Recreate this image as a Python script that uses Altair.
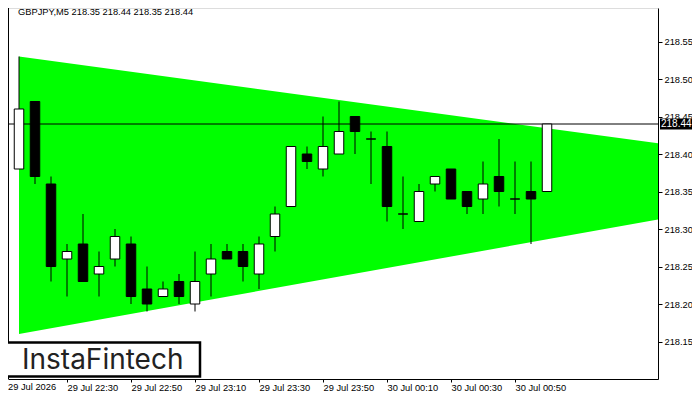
import altair as alt
import pandas as pd

# ---- data ----
times = ["2026-07-29 22:10", "2026-07-29 22:15", "2026-07-29 22:20", "2026-07-29 22:25",
         "2026-07-29 22:30", "2026-07-29 22:35", "2026-07-29 22:40", "2026-07-29 22:45",
         "2026-07-29 22:50", "2026-07-29 22:55", "2026-07-29 23:00", "2026-07-29 23:05",
         "2026-07-29 23:10", "2026-07-29 23:15", "2026-07-29 23:20", "2026-07-29 23:25",
         "2026-07-29 23:30", "2026-07-29 23:35", "2026-07-29 23:40", "2026-07-29 23:45",
         "2026-07-29 23:50", "2026-07-29 23:55", "2026-07-30 00:00", "2026-07-30 00:05",
         "2026-07-30 00:10", "2026-07-30 00:15", "2026-07-30 00:20", "2026-07-30 00:25",
         "2026-07-30 00:30", "2026-07-30 00:35", "2026-07-30 00:40", "2026-07-30 00:45",
         "2026-07-30 00:50", "2026-07-30 00:55", "2026-07-30 01:00"]
opens = [218.25, 218.38, 218.47, 218.36, 218.26, 218.28, 218.24, 218.26, 218.28, 218.22,
         218.21, 218.23, 218.20, 218.24, 218.27, 218.27, 218.24, 218.29, 218.33, 218.40,
         218.38, 218.40, 218.45, 218.42, 218.41, 218.32, 218.31, 218.36, 218.38, 218.35,
         218.34, 218.37, 218.34, 218.35, 218.35]
highs = [218.39, 218.53, 218.47, 218.37, 218.28, 218.32, 218.27, 218.30, 218.29, 218.25,
         218.23, 218.24, 218.27, 218.28, 218.28, 218.28, 218.29, 218.33, 218.41, 218.41,
         218.45, 218.47, 218.45, 218.43, 218.43, 218.37, 218.36, 218.37, 218.38, 218.35,
         218.39, 218.42, 218.39, 218.39, 218.44]
lows = [218.25, 218.38, 218.36, 218.23, 218.21, 218.23, 218.21, 218.25, 218.20, 218.19,
        218.21, 218.20, 218.19, 218.21, 218.26, 218.23, 218.22, 218.27, 218.33, 218.38,
        218.37, 218.40, 218.40, 218.36, 218.31, 218.30, 218.31, 218.35, 218.34, 218.32,
        218.32, 218.33, 218.32, 218.28, 218.35]
closes = [218.39, 218.46, 218.37, 218.25, 218.27, 218.23, 218.25, 218.29, 218.21, 218.20,
          218.22, 218.21, 218.23, 218.26, 218.26, 218.25, 218.28, 218.32, 218.41, 218.39,
          218.41, 218.43, 218.43, 218.42, 218.33, 218.32, 218.35, 218.37, 218.34, 218.33,
          218.36, 218.35, 218.34, 218.34, 218.44]

tri_times = ["2026-07-29 22:15", "2026-07-30 01:35"]
tri_upper = [218.53, 218.414]
tri_lower = [218.16, 218.313]

bid = 218.44
x_tick_times = ["2026-07-29 22:30", "2026-07-29 22:50", "2026-07-29 23:10", "2026-07-29 23:30",
                "2026-07-29 23:50", "2026-07-30 00:10", "2026-07-30 00:30", "2026-07-30 00:50"]
y_ticks = [218.15, 218.20, 218.25, 218.30, 218.35, 218.40, 218.45, 218.50, 218.55]
x_domain_times = ["2026-07-29 22:11:33.750", "2026-07-30 01:34:41.250"]
y_domain = [218.10, 218.594667]
title_text = "GBPJPY,M5  218.35 218.44 218.35 218.44"
first_label = "29 Jul 2026"
logo_text = "InstaFintech"


def ms(lst):
    return [int(v) for v in (pd.to_datetime(lst, format="ISO8601").astype("int64") // 10**6)]


df = pd.DataFrame({"t": ms(times), "open": opens, "high": highs, "low": lows, "close": closes})
tri = pd.DataFrame({"t": ms(tri_times), "up": tri_upper, "lo": tri_lower})
one = pd.DataFrame({"v": [bid]})

FONT = "Tahoma, Liberation Sans, Arial, sans-serif"
W, H = 650, 371

xscale = alt.Scale(type="utc", domain=ms(x_domain_times), nice=False, padding=0)
yscale = alt.Scale(domain=y_domain, nice=False, zero=False, padding=0)

xaxis = alt.Axis(values=ms(x_tick_times), labelExpr="utcFormat(datum.value, '%d %b %H:%M')",
                 labelAlign="left", labelFont=FONT, labelFontSize=9.3, labelColor="#000000",
                 tickSize=3, tickColor="#000000", domainColor="#000000", labelPadding=1,
                 grid=False, title=None, labelFlush=False, labelOverlap=False)
yaxis = alt.Axis(orient="right", values=y_ticks, format=".2f", labelFont=FONT, labelFontSize=9.3,
                 labelColor="#000000", tickSize=4, tickColor="#000000", domainColor="#000000",
                 labelPadding=2, grid=False, title=None, labelOverlap=False)

area = alt.Chart(tri).mark_area(color="#00FF00", opacity=1, clip=True).encode(
    x=alt.X("t:T", scale=xscale, axis=xaxis),
    y=alt.Y("up:Q", scale=yscale, axis=yaxis),
    y2="lo:Q",
)

bidline = alt.Chart(one).mark_rule(color="#000000", strokeWidth=1).encode(
    y=alt.Y("v:Q", scale=yscale)
)

wicks = alt.Chart(df).mark_rule(color="#000000", strokeWidth=1, clip=True).encode(
    x=alt.X("t:T", scale=xscale),
    y=alt.Y("low:Q", scale=yscale),
    y2="high:Q",
)

bodies = alt.Chart(df).mark_bar(size=9.5, stroke="#000000", strokeWidth=1, clip=True).encode(
    x=alt.X("t:T", scale=xscale),
    y=alt.Y("open:Q", scale=yscale),
    y2="close:Q",
    fill=alt.condition("datum.close >= datum.open", alt.value("#FFFFFF"), alt.value("#000000")),
)

leftborder = alt.Chart(one).mark_rule(color="#000000", strokeWidth=1).encode(
    x=alt.value(0.5), y=alt.value(0), y2=alt.value(H)
)

bidbox = alt.Chart(one).mark_rule(color="#000000", strokeWidth=11, strokeCap="butt").encode(
    x=alt.value(652), x2=alt.value(684), y=alt.Y("v:Q", scale=yscale)
)
bidtext = alt.Chart(one).mark_text(color="#FFFFFF", font=FONT, fontSize=10, align="left",
                                   baseline="middle").encode(
    x=alt.value(653), y=alt.Y("v:Q", scale=yscale), text=alt.Text("v:Q", format=".2f")
)

title = alt.Chart(one).mark_text(color="#000000", font=FONT, fontSize=9.3, align="left",
                                 baseline="middle").encode(
    x=alt.value(10), y=alt.value(3.5), text=alt.value(title_text)
)

firstlab = alt.Chart(one).mark_text(color="#000000", font=FONT, fontSize=9.3, align="left",
                                    baseline="top").encode(
    x=alt.value(0), y=alt.value(H + 4), text=alt.value(first_label)
)

logobox = alt.Chart(one).mark_rect(fill="#FFFFFF", stroke="#000000", strokeWidth=2.5).encode(
    x=alt.value(-6), x2=alt.value(192), y=alt.value(334.5), y2=alt.value(368.5)
)
logotext = alt.Chart(one).mark_text(color="#222222", font="Inter, Lato, sans-serif", fontSize=28,
                                    fontWeight=400, align="left", baseline="alphabetic").encode(
    x=alt.value(14), y=alt.value(361), text=alt.value(logo_text)
)

chart = alt.layer(
    area, bidline, wicks, bodies, leftborder, bidbox, bidtext, title, firstlab, logobox, logotext
).properties(
    width=W, height=H,
    autosize=alt.AutoSizeParams(type="none"),
    padding={"left": 0, "top": 0, "right": 34, "bottom": 13},
).configure_view(stroke=None).configure(background="#FFFFFF")

chart.save("out.html", embed_options={"renderer": "svg", "actions": False})
